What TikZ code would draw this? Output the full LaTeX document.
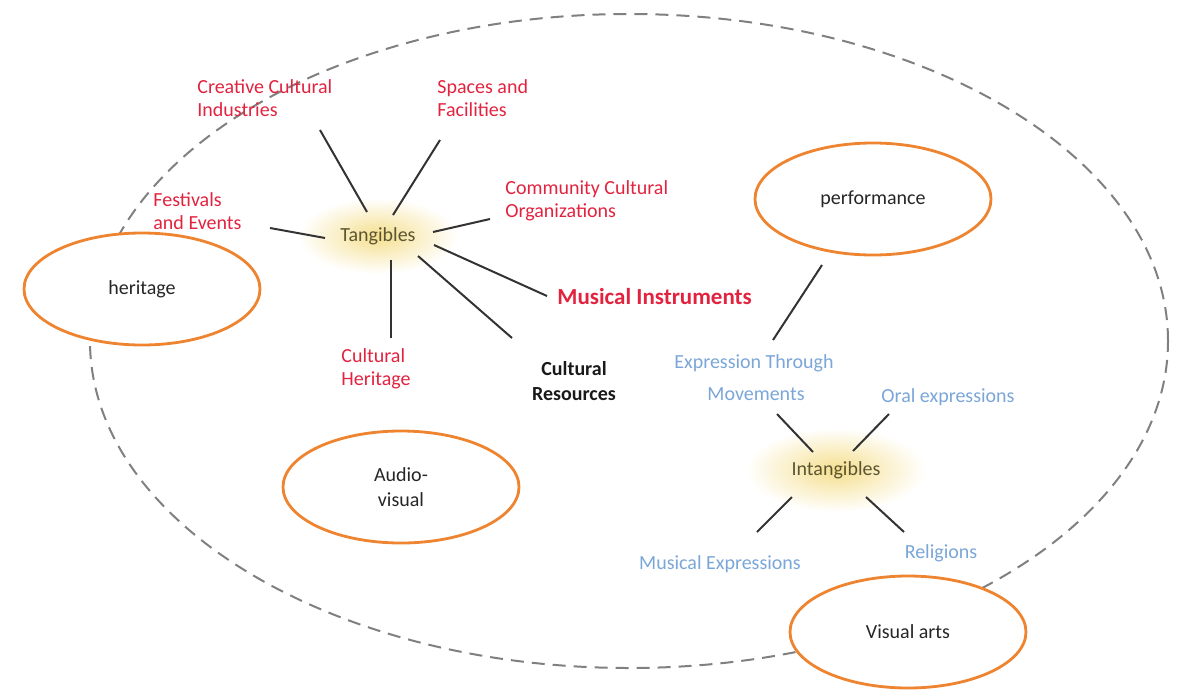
\documentclass[tikz,border=0pt]{standalone}
\usepackage{fontspec}
\setmainfont{Carlito}
\usetikzlibrary{shapes.geometric}
\definecolor{lblred}{HTML}{E2233F}
\definecolor{lblblue}{HTML}{7AA6D8}
\definecolor{ovalorange}{HTML}{EE8430}
\definecolor{hubtext}{HTML}{5B5531}
\definecolor{glowyellow}{HTML}{F5DF8E}
\definecolor{dashgray}{HTML}{808080}
\begin{document}
\begin{tikzpicture}[x=0.5pt,y=-0.5pt,
  redlbl/.style={text=lblred, font=\fontsize{10}{11.5}\selectfont, align=left, inner sep=0pt, anchor=west},
  bluelbl/.style={text=lblblue, font=\fontsize{10}{12}\selectfont, inner sep=0pt},
  hub/.style={text=hubtext, font=\fontsize{10}{12}\selectfont, inner sep=0pt},
  oval/.style={ellipse, draw=ovalorange, line width=1.4pt, fill=white, minimum width=118pt, minimum height=56pt, inner sep=0pt, text=black!85, align=center, font=\fontsize{10}{12.5}\selectfont},
  conn/.style={draw=black!80, line width=1pt},
  glow/.style={inner color=glowyellow, outer color=white}]
\useasboundingbox (0,0) rectangle (1178,697);
% glows
\shade[glow] (378,236) ellipse [x radius=40pt, y radius=19pt];
\shade[glow] (836,470) ellipse [x radius=45pt, y radius=21pt];
% outer dashed boundary
\draw[dashgray, line width=1pt, dash pattern=on 6.5pt off 4pt] (629,341) ellipse [x radius=269.5pt, y radius=163.5pt];
% orange ovals
\node[oval] (heritage) at (142,289) {heritage};
\node[oval] (perf) at (873,199) {performance};
\node[oval] (audio) at (401,487) {Audio-\\visual};
\node[oval] (visual) at (908,632) {Visual arts};
% hubs
\node[hub] (tang) at (378,236) {Tangibles};
\node[hub] (intang) at (836,470) {Intangibles};
% tangible labels
\node[redlbl] (creative) at (197,98) {Creative Cultural\\Industries};
\node[redlbl] (spaces) at (437,98) {Spaces and\\Facilities};
\node[redlbl] (fest) at (153,211) {Festivals\\and Events};
\node[redlbl] (commu) at (505,201) {Community Cultural\\Organizations};
\node[redlbl, font=\bfseries\fontsize{11.5}{13}\selectfont] (musinst) at (557,297) {Musical Instruments};
\node[redlbl] (culther) at (341,369) {Cultural\\Heritage};
\node[inner sep=0pt, align=center, font=\bfseries\fontsize{10}{12.5}\selectfont, text=black!90] (culres) at (574,381) {Cultural\\Resources};
% intangible labels
\node[bluelbl] (expr) at (754,363) {Expression Through};
\node[bluelbl] (movem) at (756,394) {Movements};
\node[bluelbl] (oral) at (948,397) {Oral expressions};
\node[bluelbl] (musexp) at (720,564) {Musical Expressions};
\node[bluelbl] (relig) at (941,553) {Religions};
% connector end points
\coordinate (tA1) at (367,212); \coordinate (tB1) at (320,130);
\coordinate (tA2) at (393,215); \coordinate (tB2) at (440,140);
\coordinate (tA3) at (325,238); \coordinate (tB3) at (270,228);
\coordinate (tA4) at (433,232); \coordinate (tB4) at (490,219);
\coordinate (tA5) at (434,245); \coordinate (tB5) at (547,296);
\coordinate (tA6) at (418,256); \coordinate (tB6) at (512,338);
\coordinate (tA7) at (391,260); \coordinate (tB7) at (391,338);
\coordinate (pA) at (822,265); \coordinate (pB) at (773,340);
\coordinate (iA1) at (813,452); \coordinate (iB1) at (777,414);
\coordinate (iA2) at (853,451); \coordinate (iB2) at (889,414);
\coordinate (iA3) at (792,497); \coordinate (iB3) at (757,532);
\coordinate (iA4) at (866,497); \coordinate (iB4) at (904,532);
% connectors
\draw[conn] (tA1) -- (tB1);
\draw[conn] (tA2) -- (tB2);
\draw[conn] (tA3) -- (tB3);
\draw[conn] (tA4) -- (tB4);
\draw[conn] (tA5) -- (tB5);
\draw[conn] (tA6) -- (tB6);
\draw[conn] (tA7) -- (tB7);
\draw[conn] (pA) -- (pB);
\draw[conn] (iA1) -- (iB1);
\draw[conn] (iA2) -- (iB2);
\draw[conn] (iA3) -- (iB3);
\draw[conn] (iA4) -- (iB4);
\end{tikzpicture}
\end{document}
